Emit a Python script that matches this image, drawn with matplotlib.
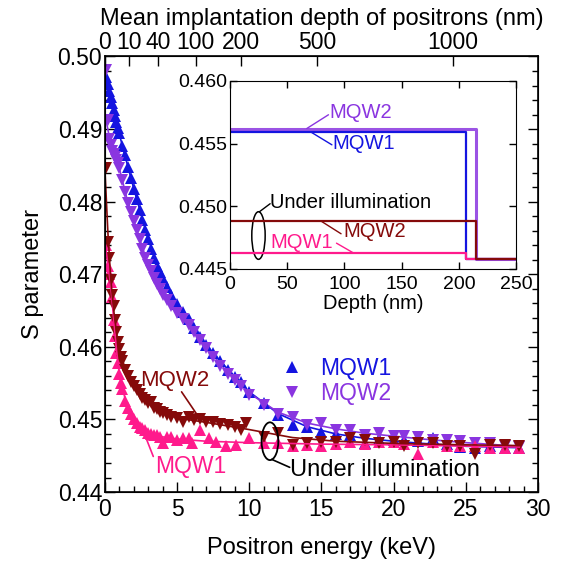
import numpy as np
import matplotlib
matplotlib.use("Agg")
import matplotlib.pyplot as plt
import matplotlib.ticker as mticker
from matplotlib.patches import Ellipse

plt.rcParams["font.family"] = ["Liberation Sans", "DejaVu Sans"]

# --- data ---
e_dark = [0.1, 0.2, 0.3, 0.4, 0.5, 0.6, 0.7, 0.8, 0.9, 1.0, 1.2, 1.4, 1.6, 1.8, 2.0, 2.2, 2.4, 2.6, 2.8, 3.0,
          3.2, 3.4, 3.6, 3.8, 4.0, 4.3, 4.6, 5.0, 5.4, 5.8, 6.2, 6.6, 7.0, 7.5, 8.0, 8.5, 9.0, 9.4, 10.0, 11.0,
          12.0, 13.0, 14.0, 15.0, 16.0, 17.0, 18.0, 19.0, 20.0, 20.7, 21.7, 22.7, 23.7, 24.6, 25.6, 26.7, 27.7, 28.7]
s_mqw1 = [0.4972, 0.4962, 0.4953, 0.4944, 0.4936, 0.4926, 0.4918, 0.4910, 0.4901, 0.4895, 0.4877, 0.4864, 0.4848,
          0.4832, 0.4818, 0.4803, 0.4789, 0.4775, 0.4761, 0.4748, 0.4735, 0.4722, 0.4712, 0.4703, 0.4694, 0.4682,
          0.4671, 0.4659, 0.4648, 0.4638, 0.4626, 0.4614, 0.4603, 0.4592, 0.4580, 0.4568, 0.4559, 0.4552, 0.4538,
          0.4522, 0.4506, 0.4492, 0.4490, 0.4483, 0.4480, 0.4478, 0.4467, 0.4473, 0.4471, 0.4472, 0.4470, 0.4474,
          0.4466, 0.4462, 0.4460, 0.4463, 0.4461, 0.4460]
s_mqw2 = [0.4981, 0.4912, 0.4886, 0.4878, 0.4870, 0.4866, 0.4862, 0.4858, 0.4853, 0.4846, 0.4830, 0.4814, 0.4798,
          0.4786, 0.4773, 0.4761, 0.4748, 0.4735, 0.4723, 0.4713, 0.4704, 0.4695, 0.4687, 0.4679, 0.4671, 0.4664,
          0.4656, 0.4647, 0.4638, 0.4630, 0.4620, 0.4609, 0.4598, 0.4586, 0.4574, 0.4563, 0.4554, 0.4546, 0.4534,
          0.4520, 0.4508, 0.4504, 0.4492, 0.4495, 0.4486, 0.4486, 0.4479, 0.4481, 0.4477, 0.4477, 0.4476, 0.4471,
          0.4472, 0.4470, 0.4468, 0.4467, 0.4464, 0.4462]

e_ill2 = [0.1, 0.2, 0.3, 0.4, 0.5, 0.6, 0.7, 0.8, 0.9, 1.0, 1.1, 1.2, 1.4, 1.6, 1.8, 2.0, 2.2, 2.4, 2.6, 2.8, 3.0,
          3.2, 3.4, 3.6, 3.8, 4.0, 4.3, 4.6, 5.0, 5.4, 5.8, 6.2, 6.6, 7.0, 7.5, 8.0, 8.5, 9.0, 9.4, 9.8, 11.0,
          12.0, 13.0, 14.0, 15.0, 16.0, 17.0, 18.0, 19.0, 20.0, 20.7, 21.7, 22.7, 23.7, 24.6, 25.6, 26.7, 27.7, 28.7]
s_ill2 = [0.4846, 0.4745, 0.4722, 0.4692, 0.4672, 0.4656, 0.4637, 0.4620, 0.4607, 0.4597, 0.4586, 0.4580, 0.4568,
          0.4560, 0.4551, 0.4546, 0.4540, 0.4535, 0.4530, 0.4527, 0.4522, 0.4524, 0.4516, 0.4514, 0.4510, 0.4509,
          0.4506, 0.4503, 0.4502, 0.4497, 0.4504, 0.4499, 0.4500, 0.4496, 0.4497, 0.4494, 0.4492, 0.4490, 0.4486,
          0.4495, 0.4476, 0.4481, 0.4465, 0.4467, 0.4469, 0.4469, 0.4474, 0.4472, 0.4467, 0.4469, 0.4463, 0.4467,
          0.4467, 0.4463, 0.4463, 0.4453, 0.4465, 0.4465, 0.4463]

e_ill1 = [0.1, 0.2, 0.3, 0.4, 0.5, 0.6, 0.7, 0.8, 0.9, 1.0, 1.1, 1.2, 1.4, 1.6, 1.8, 2.0, 2.2, 2.4, 2.6, 2.8, 3.0,
          3.2, 3.4, 3.6, 3.8, 4.0, 4.3, 4.6, 5.0, 5.4, 5.8, 6.0, 6.6, 7.2, 7.7, 8.4, 9.1, 10.0, 11.0, 12.0, 13.0,
          14.0, 15.0, 16.0, 17.0, 18.0, 19.0, 20.0, 20.7, 21.7, 22.7, 23.7, 24.6, 25.6, 26.7, 27.7, 28.7]
s_ill1 = [0.4740, 0.4712, 0.4700, 0.4690, 0.4668, 0.4637, 0.4615, 0.4592, 0.4578, 0.4562, 0.4550, 0.4542, 0.4526,
          0.4516, 0.4508, 0.4500, 0.4495, 0.4490, 0.4488, 0.4485, 0.4482, 0.4480, 0.4478, 0.4479, 0.4476, 0.4467,
          0.4476, 0.4476, 0.4472, 0.4475, 0.4474, 0.4467, 0.4486, 0.4474, 0.4469, 0.4463, 0.4465, 0.4474, 0.4467,
          0.4467, 0.4463, 0.4465, 0.4463, 0.4466, 0.4469, 0.4466, 0.4469, 0.4469, 0.4466, 0.4453, 0.4469, 0.4463,
          0.4463, 0.4463, 0.4461, 0.4461, 0.4461]

# fitted curves
fit_e1 = [0, 0.5, 1, 1.5, 2, 3, 4, 5, 6, 7, 8, 9, 10, 12, 14, 16, 18, 20, 22, 25, 28.7]
fit_s1 = [0.4985, 0.4937, 0.4893, 0.4855, 0.4818, 0.4748, 0.4694, 0.4659, 0.4630, 0.4603, 0.4580, 0.4559, 0.4538,
          0.4508, 0.4490, 0.4480, 0.4474, 0.4470, 0.4467, 0.4463, 0.4461]
fit_e2 = [0, 0.3, 0.6, 1, 1.5, 2, 3, 4, 5, 6, 7, 8, 9, 10, 12, 14, 16, 18, 20, 22, 25, 28.7]
fit_s2 = [0.4920, 0.4890, 0.4868, 0.4846, 0.4806, 0.4773, 0.4713, 0.4671, 0.4647, 0.4625, 0.4600, 0.4576, 0.4555,
          0.4536, 0.4510, 0.4495, 0.4487, 0.4481, 0.4477, 0.4473, 0.4468, 0.4463]
fit_e_ill2 = [0, 0.2, 0.4, 0.6, 0.8, 1.0, 1.5, 2, 3, 4, 5, 7, 10, 13, 16, 20, 25, 28.7]
fit_s_ill2 = [0.4845, 0.4760, 0.4695, 0.4652, 0.4620, 0.4597, 0.4563, 0.4545, 0.4522, 0.4509, 0.4502, 0.4496,
              0.4486, 0.4475, 0.4470, 0.4467, 0.4465, 0.4464]
fit_e_ill1 = [0, 0.2, 0.4, 0.6, 0.8, 1.0, 1.5, 2, 3, 4, 5, 7, 10, 15, 20, 28.7]
fit_s_ill1 = [0.4745, 0.4715, 0.4685, 0.4640, 0.4596, 0.4562, 0.4520, 0.4500, 0.4482, 0.4476, 0.4473, 0.4470,
              0.4468, 0.4466, 0.4465, 0.4462]

# top axis: mean implantation depth
depth_tick_energy = [0, 1.7, 3.7, 6.3, 9.4, 14.7, 24.1]
depth_tick_labels = ["0", "10", "40", "100", "200", "500", "1000"]

# inset: S(depth) profiles
depth_mqw1 = [0, 206, 206, 250]
depth_mqw2 = [0, 215, 215, 250]
prof_mqw1 = [0.4559, 0.4559, 0.4458, 0.4458]
prof_mqw2 = [0.4562, 0.4562, 0.4458, 0.4458]
prof_ill1 = [0.44626, 0.44626, 0.4458, 0.4458]
prof_ill2 = [0.44884, 0.44884, 0.4458, 0.4458]

C_BLUE = "#1414e0"
C_PURPLE = "#8a35e0"
C_DRED = "#850a0a"
C_PINK = "#ff1a8c"

fig = plt.figure(figsize=(5.64, 5.66), dpi=100)
ax = fig.add_axes([0.186, 0.1307, 0.768, 0.7695])

ms = 8
ax.plot(fit_e1, fit_s1, "-", color=C_BLUE, lw=1.2, zorder=2)
ax.plot(fit_e2, fit_s2, "-", color=C_PURPLE, lw=1.2, zorder=2)
ax.plot(e_dark, s_mqw1, "^", color=C_BLUE, ms=ms, mew=0, zorder=3)
ax.plot(e_dark, s_mqw2, "v", color=C_PURPLE, ms=ms, mew=0, zorder=3)
ax.plot(e_ill1, s_ill1, "^", color=C_PINK, ms=ms, mew=0, zorder=3)
ax.plot(e_ill2, s_ill2, "v", color=C_DRED, ms=ms, mew=0, zorder=3)
ax.plot(fit_e_ill1, fit_s_ill1, "-", color=C_PINK, lw=1.2, zorder=4)
ax.plot(fit_e_ill2, fit_s_ill2, "-", color=C_DRED, lw=1.2, zorder=4)

ax.set_xlim(0, 30)
ax.set_ylim(0.44, 0.50)
ax.xaxis.set_major_locator(mticker.MultipleLocator(5))
ax.xaxis.set_minor_locator(mticker.MultipleLocator(1))
ax.yaxis.set_major_locator(mticker.MultipleLocator(0.01))
ax.yaxis.set_minor_locator(mticker.MultipleLocator(0.002))
ax.yaxis.set_major_formatter(mticker.FormatStrFormatter("%.2f"))
ax.tick_params(which="both", direction="in", right=True, top=False, labelsize=16.5, pad=2)
ax.tick_params(axis="x", pad=4)
ax.tick_params(which="major", length=7, width=1)
ax.tick_params(which="minor", length=4, width=1)
for sp in ax.spines.values():
    sp.set_linewidth(1.2)
ax.set_xlabel("Positron energy (keV)", fontsize=17, labelpad=12)
ax.set_ylabel("S parameter", fontsize=17, labelpad=10)

top = ax.twiny()
top.set_xlim(ax.get_xlim())
top.set_xticks(depth_tick_energy)
top.set_xticklabels(depth_tick_labels)
top.tick_params(direction="in", length=7, width=1, labelsize=16.5, pad=2)
top.set_xlabel("Mean implantation depth of positrons (nm)", fontsize=17, labelpad=4)

handles = [plt.Line2D([], [], ls="none", marker="^", color=C_BLUE, ms=9, mew=0),
           plt.Line2D([], [], ls="none", marker="v", color=C_PURPLE, ms=9, mew=0)]
ax.legend(handles, ["MQW1", "MQW2"], loc="center left", bbox_to_anchor=(0.38, 0.255), frameon=False,
          fontsize=16.5, handlelength=1.0, handletextpad=0.7, labelspacing=0.05, borderpad=0,
          labelcolor=[C_BLUE, C_PURPLE])

line_kw = dict(arrowstyle="-", lw=1.2, shrinkA=0, shrinkB=0)
ax.text(2.43, 0.4554, "MQW2", color=C_DRED, fontsize=16, ha="left", va="center")
ax.annotate("", xy=(6.47, 0.4504), xytext=(5.31, 0.4538), arrowprops=dict(color=C_DRED, **line_kw))
ax.text(3.46, 0.4435, "MQW1", color=C_PINK, fontsize=16.5, ha="left", va="center")
ax.annotate("", xy=(2.54, 0.4490), xytext=(3.35, 0.4449), arrowprops=dict(color=C_PINK, **line_kw))
ax.add_patch(Ellipse((11.43, 0.4470), 1.16, 0.0052, fill=False, ec="black", lw=1.3, zorder=5))
ax.text(12.8, 0.4430, "Under illumination", color="black", fontsize=17, ha="left", va="center")
ax.annotate("", xy=(11.55, 0.4445), xytext=(12.8, 0.4434), arrowprops=dict(color="black", **line_kw))

# inset
ins = fig.add_axes([0.408, 0.525, 0.507, 0.332])
ins.plot(depth_mqw2, prof_mqw2, color=C_PURPLE, lw=2.2, alpha=0.85)
ins.plot(depth_mqw1, prof_mqw1, color=C_BLUE, lw=1.6)
ins.plot(depth_mqw1, prof_ill1, color=C_PINK, lw=1.6)
ins.plot(depth_mqw2, prof_ill2, color=C_DRED, lw=1.6)
ins.set_xlim(0, 250)
ins.set_ylim(0.445, 0.460)
ins.xaxis.set_major_locator(mticker.MultipleLocator(50))
ins.yaxis.set_major_locator(mticker.MultipleLocator(0.005))
ins.yaxis.set_major_formatter(mticker.FormatStrFormatter("%.3f"))
ins.tick_params(direction="in", top=True, right=True, length=5, width=1, labelsize=14, pad=2)
ins.tick_params(axis="x", pad=5)
ins.set_xlabel("Depth (nm)", fontsize=14.5, labelpad=1)

ins_kw = dict(arrowstyle="-", lw=1.0, shrinkA=0, shrinkB=0)
ins.text(87, 0.4575, "MQW2", color=C_PURPLE, fontsize=14.5, ha="left", va="center")
ins.annotate("", xy=(67, 0.4562), xytext=(86, 0.4573), arrowprops=dict(color=C_PURPLE, **ins_kw))
ins.text(89, 0.4550, "MQW1", color=C_BLUE, fontsize=14.5, ha="left", va="center")
ins.annotate("", xy=(71, 0.4559), xytext=(89, 0.4549), arrowprops=dict(color=C_BLUE, **ins_kw))
ins.text(35, 0.4503, "Under illumination", color="black", fontsize=14.5, ha="left", va="center")
ins.add_patch(Ellipse((24.8, 0.44766), 11.7, 0.0038, fill=False, ec="black", lw=1.1))
ins.annotate("", xy=(25.5, 0.44955), xytext=(35, 0.4502), arrowprops=dict(color="black", **ins_kw))
ins.text(99, 0.4480, "MQW2", color=C_DRED, fontsize=14.5, ha="left", va="center")
ins.annotate("", xy=(79, 0.44884), xytext=(97, 0.4478), arrowprops=dict(color=C_DRED, **ins_kw))
ins.text(35, 0.4471, "MQW1", color=C_PINK, fontsize=14.5, ha="left", va="center")
ins.annotate("", xy=(108, 0.44626), xytext=(93, 0.44705), arrowprops=dict(color=C_PINK, **ins_kw))

fig.savefig("out.png", dpi=100)
